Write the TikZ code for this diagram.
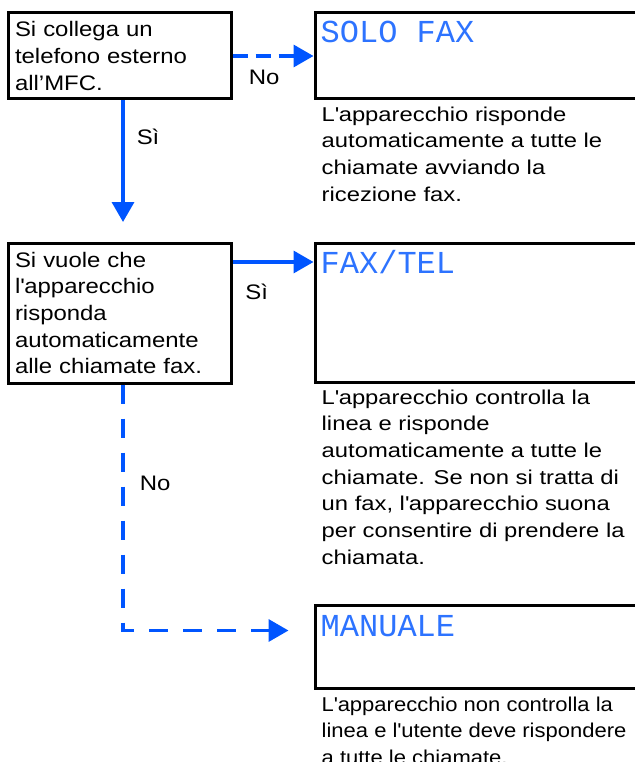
\documentclass[tikz,border=0pt]{standalone}
\usepackage{fontspec}
\setmainfont{Liberation Sans}
\newfontfamily\askfam{Liberation Sans}[FakeStretch=1.14]
\newfontfamily\descfam{Liberation Sans}[FakeStretch=1.19]
\newfontfamily\narrowfam{Liberation Sans}[FakeStretch=1.1]
\newfontfamily\lcdfont{Liberation Mono}
\usetikzlibrary{arrows.meta,calc}
\definecolor{lineblue}{RGB}{0,85,255}
\definecolor{lcdblue}{RGB}{45,115,255}
\newcommand{\askfont}{\askfam\fontsize{21}{26.7}\selectfont}
\newcommand{\descfont}{\descfam\fontsize{20}{26.7}\selectfont}
\newcommand{\aq}{\textquotesingle}
\tikzset{
  askbox/.style={draw,line width=3pt,inner xsep=7pt,inner ysep=0pt,text width=209pt,
    minimum height=#1,align=left,font=\askfont},
  lcdbox/.style={draw,line width=3pt,minimum width=325pt,minimum height=#1,inner sep=0pt},
  lcdtext/.style={anchor=base west,inner sep=0pt,text=lcdblue,font=\lcdfont\fontsize{32}{32}\selectfont},
  desc/.style={anchor=north west,inner sep=0pt,align=left,font=\descfont},
  yesline/.style={draw=lineblue,line width=3.5pt,-{Triangle[length=20pt,width=22pt]}},
  noline/.style={yesline,dash pattern=on 19pt off 15pt},
  tag/.style={inner sep=0pt,font=\askfont}
}
\begin{document}
\begin{tikzpicture}[x=1pt,y=-1pt]
  \useasboundingbox (0,0) rectangle (634,762);
  % questions
  \node[askbox=86pt](q1)at(119.5,56){Si collega un\\telefono esterno\\all’MFC.};
  \node[askbox=140pt](q2)at(119.5,313){Si vuole che\\l\aq apparecchio\\risponda\\automaticamente\\alle chiamate fax.};
  % display boxes
  \node[lcdbox=86pt](solo)at(477.5,56){};
  \node[lcdbox=139pt](faxtel)at(477.5,312.5){};
  \node[lcdbox=83pt](manual)at(477.5,646.5){};
  \node[lcdtext](solot)at($(solo.north west)+(7,31.5)$){SOLO FAX};
  \node[lcdtext](faxtelt)at($(faxtel.north west)+(7,31.5)$){FAX/TEL};
  \node[lcdtext](manualt)at($(manual.north west)+(7,32.5)$){MANUALE};
  % descriptions
  \node[desc](solod)at($(solo.south west)+(8,6)$){L\aq apparecchio risponde\\automaticamente a tutte le\\chiamate avviando la\\ricezione fax.};
  \node[desc](faxteld)at($(faxtel.south west)+(8,6)$){L\aq apparecchio controlla la\\linea e risponde\\automaticamente a tutte le\\chiamate. Se non si tratta di\\un fax, l\aq apparecchio suona\\per consentire di prendere la\\chiamata.};
  \node[desc,font=\narrowfam\fontsize{20}{26.7}\selectfont](manuald)at($(manual.south west)+(8,7)$){L\aq apparecchio non controlla la\\linea e l\aq utente deve rispondere\\a tutte le chiamate.};
  % connectors
  \draw[noline,dash pattern=on 15pt off 8pt](q1.east)--node[tag,pos=0.39,below=12pt]{No}(solo.west);
  \draw[yesline,shorten >=19.5pt]([xshift=3.5pt]q1.south)--node[tag,pos=0.26,right=12pt]{Sì}([xshift=3.5pt]q2.north);
  \draw[yesline]([yshift=-20.5pt]q2.north east)coordinate(s2)--node[tag,pos=0.3,below=20pt]{Sì}(s2-|faxtel.west);
  \coordinate(bend)at(123,630.5);
  \draw[noline,shorten >=25pt]([xshift=3.5pt]q2.south)--node[tag,pos=0.4,right=15pt]{No}(bend)--(bend-|manual.west);
\end{tikzpicture}
\end{document}
